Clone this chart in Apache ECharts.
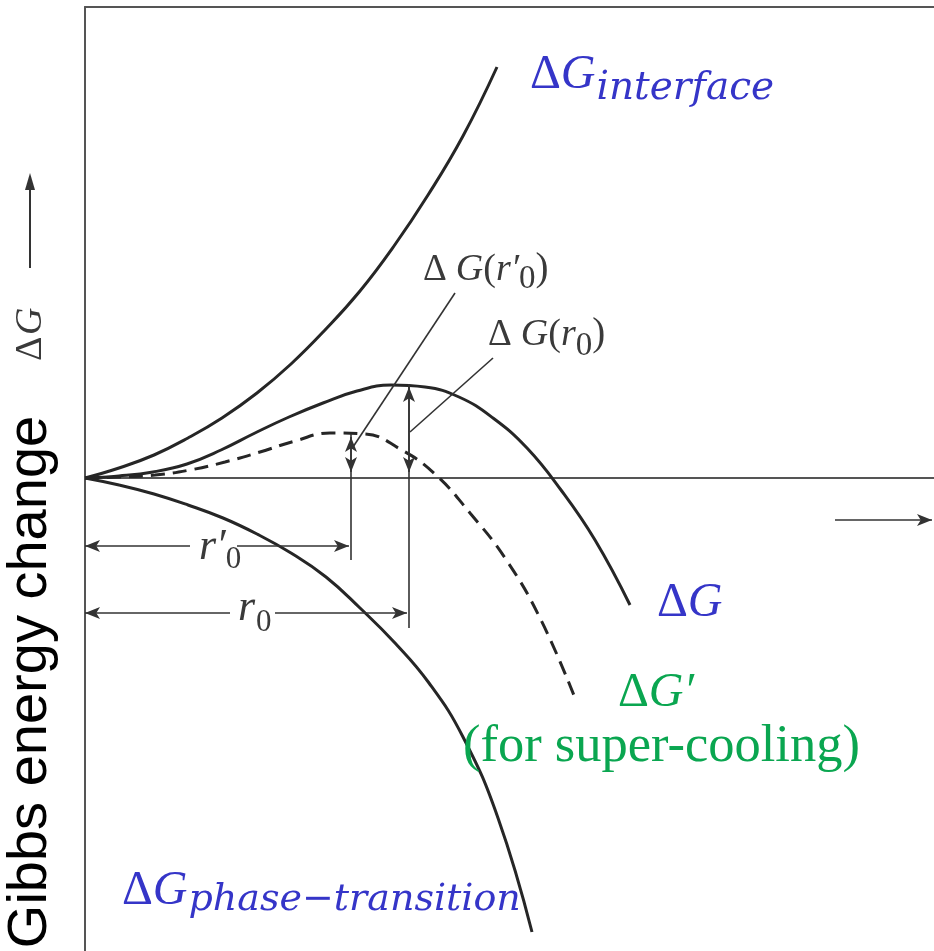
<!DOCTYPE html>
<html><head><meta charset="utf-8">
<script src="https://cdn.jsdelivr.net/npm/echarts@6/dist/echarts.min.js"></script>
<style>html,body{margin:0;padding:0;background:#fff}#c{width:934px;height:951px}</style>
</head><body><div id="c"></div>
<script>
// Radius r (arbitrary units from the origin) vs Gibbs energy change (arbitrary units, 0 = zero line)
const interfaceCurve = [[0,0],[34,10],[69,23],[103,40],[137,60],[172,85],[206,114],[240,148],[275,187],[309,232],[343,283],[378,342],[412,411]];
const deltaG = [[0,0],[34,2],[68,6],[102,14],[136,28],[170,45],[204,61],[238,75],[272,87],[306,93],[340,91],[374,81],[408,60],[442,30],[476,-12],[510,-62],[545,-127]];
const deltaGSuper = [[0,0],[35,1],[70,3],[105,8],[140,16],[175,26],[210,37],[245,45],[280,44],[315,29],[350,4],[385,-35],[420,-80],[455,-140],[490,-220]];
const phaseCurve = [[0,0],[34,-7],[69,-16],[103,-27],[138,-40],[172,-56],[206,-75],[241,-99],[275,-130],[310,-165],[344,-205],[378,-259],[413,-340],[447,-454]];

// critical radii and dimension lines
const r0 = 324, r0p = 266;
const r0Peak = 94, r0pPeak = 44;
const r0DimY = -135, r0pDimY = -68;
const r0LineBottom = -150, r0pLineBottom = -82;
const r0Gap = [145, 190], r0pGap = [105, 152];
const leaderR0p = [[370,185],[268,31]];
const leaderR0 = [[408,120],[325,46]];
const rArrow = [[750,-42],[847,-42]];

const xRange = [0, 849], yRange = [-473, 471];

const chart = echarts.init(document.getElementById('c'), null, {renderer:'canvas'});
const ink = '#262626', thin = '#333';

function seg(a, b, sa, sb) {
  return [{coord:a, symbol:sa||'none'}, {coord:b, symbol:sb||'none'}];
}
const marks = [
  seg([r0, r0Peak], [r0, r0LineBottom]),
  seg([r0, r0Peak-3], [r0, 6], 'arrow', 'arrow'),
  seg([r0p, r0pPeak], [r0p, r0pLineBottom]),
  seg([r0p, r0pPeak-3], [r0p, 6], 'arrow', 'arrow'),
  seg([0, r0pDimY], [r0pGap[0], r0pDimY], 'arrow', 'none'),
  seg([r0pGap[1], r0pDimY], [r0p-2, r0pDimY], 'none', 'arrow'),
  seg([0, r0DimY], [r0Gap[0], r0DimY], 'arrow', 'none'),
  seg([r0Gap[1], r0DimY], [r0-2, r0DimY], 'none', 'arrow'),
  seg(leaderR0p[0], leaderR0p[1]),
  seg(leaderR0[0], leaderR0[1]),
  seg(rArrow[0], rArrow[1], 'none', 'arrow')
];

const ctx = document.createElement('canvas').getContext('2d');
function runs(x, baseline, parts, color) {
  let cx = x; const out = [];
  parts.forEach(p => {
    const font = (p.italic ? 'italic ' : '') + p.size + 'px ' + (p.family || '"Liberation Serif"');
    ctx.font = font;
    const w = ctx.measureText(p.t).width;
    const b = baseline + (p.dy || 0);
    out.push({type:'text', x: cx + (p.dx || 0), y: b - 0.34 * p.size, silent:true, z:100,
      style:{text:p.t, font:font, fill:color, align:'left', verticalAlign:'middle', textAlign:'left', textVerticalAlign:'middle'}});
    cx += w + (p.dx || 0) + (p.gap || 0);
  });
  return out;
}
const blue = '#3535c8', green = '#0aa650', gray = '#3a3a3a';
const DJ = '"DejaVu Serif"';
let graphics = [];
graphics = graphics.concat(
  runs(530, 92, [{t:'Δ', size:48},{t:'G', size:48, italic:true, gap:1},{t:'interface', size:39, italic:true, family:DJ, dy:10}], blue),
  runs(657, 620, [{t:'Δ', size:48},{t:'G', size:48, italic:true}], blue),
  runs(618, 710, [{t:'Δ', size:48},{t:'G′', size:48, italic:true}], green),
  runs(463, 765, [{t:'(for super-cooling)', size:52.5}], green),
  runs(122, 908, [{t:'Δ', size:48},{t:'G', size:48, italic:true, gap:1},{t:'phase−transition', size:38, italic:true, family:DJ, dy:5}], blue),
  runs(423, 283, [{t:'Δ', size:37, gap:9},{t:'G', size:38, italic:true},{t:'(', size:38},{t:'r′', size:38, italic:true},{t:'0', size:33, dy:8},{t:')', size:39}], gray),
  runs(488, 348, [{t:'Δ', size:37, gap:9},{t:'G', size:38, italic:true},{t:'(', size:38},{t:'r', size:38, italic:true},{t:'0', size:33, dy:10},{t:')', size:39}], gray),
  runs(199, 562, [{t:'r′', size:44, italic:true},{t:'0', size:31, dy:8}], gray),
  runs(238, 623, [{t:'r', size:44, italic:true, gap:1},{t:'0', size:31, dy:10}], gray)
);
// y axis title
graphics.push({type:'group', x:31, y:682, rotation:Math.PI/2, silent:true, children:[
  {type:'text', x:0, y:0, style:{text:'Gibbs energy change', font:'56px "Liberation Sans"', fill:'#000', align:'center', verticalAlign:'middle', textAlign:'center', textVerticalAlign:'middle'}}
]});
graphics.push({type:'group', x:31, y:337, rotation:Math.PI/2, silent:true, children:[
  {type:'text', x:-24, y:0, style:{text:'Δ', font:'38px "Liberation Serif"', fill:gray, align:'left', verticalAlign:'middle', textAlign:'left', textVerticalAlign:'middle'}},
  {type:'text', x:2, y:0, style:{text:'G', font:'italic 38px "Liberation Serif"', fill:gray, align:'left', verticalAlign:'middle', textAlign:'left', textVerticalAlign:'middle'}}
]});
graphics.push({type:'line', silent:true, shape:{x1:30, y1:268, x2:30, y2:186}, style:{stroke:'#333', lineWidth:2}});
graphics.push({type:'polygon', silent:true, shape:{points:[[30,173],[25,190],[35,190]]}, style:{fill:'#333'}});

const axisCommon = {axisTick:{show:false}, axisLabel:{show:false}, splitLine:{show:false}};
function curve(data, dashed) {
  return {type:'line', data:data, showSymbol:false, symbol:'none', smooth:0.45, silent:true,
    lineStyle:{color:ink, width:3, type: dashed ? [14,8] : 'solid'}};
}
const s0 = curve(interfaceCurve);
s0.markLine = {silent:true, animation:false, symbol:['none','none'], symbolSize:[9,15], label:{show:false},
  lineStyle:{color:thin, width:1.6, type:'solid'}, emphasis:{disabled:true}, data:marks};

chart.setOption({
  animation:false,
  backgroundColor:'#fff',
  grid:{left:85, right:0, top:7, bottom:0, containLabel:false, outerBoundsMode:'none'},
  xAxis:[
    Object.assign({type:'value', min:xRange[0], max:xRange[1], axisLine:{show:true, onZero:true, lineStyle:{color:'#555', width:2}}}, axisCommon),
    Object.assign({type:'value', position:'top', min:xRange[0], max:xRange[1], axisLine:{show:true, onZero:false, lineStyle:{color:'#555', width:2}}}, axisCommon)
  ],
  yAxis:Object.assign({type:'value', min:yRange[0], max:yRange[1], axisLine:{show:true, onZero:true, lineStyle:{color:'#555', width:2}}}, axisCommon),
  series:[s0, curve(deltaG), curve(deltaGSuper, true), curve(phaseCurve)],
  graphic:graphics
});
</script></body></html>
